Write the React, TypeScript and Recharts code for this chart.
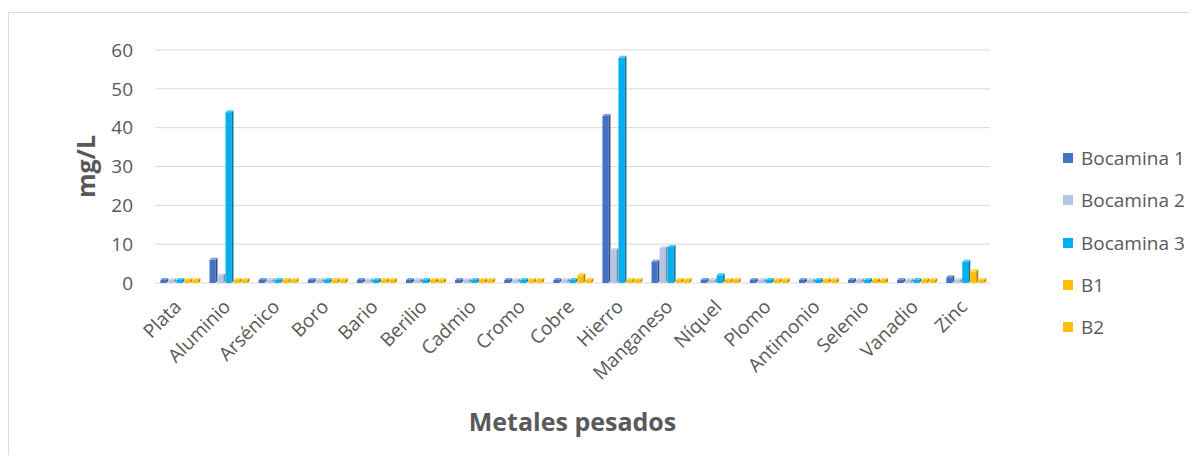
import { BarChart, Bar, XAxis, YAxis, CartesianGrid, Label } from 'recharts'

const metales = [
  'Plata', 'Aluminio', 'Arsénico', 'Boro', 'Bario', 'Berilio', 'Cadmio', 'Cromo', 'Cobre',
  'Hierro', 'Manganeso', 'Níquel', 'Plomo', 'Antimonio', 'Selenio', 'Vanadio', 'Zinc',
]

const bocamina1 = [0, 6, 0, 0, 0, 0, 0, 0, 0.2, 43, 5.5, 0.6, 0, 0, 0, 0, 1.5]
const bocamina2 = [0, 2, 0, 0, 0, 0, 0, 0, 0, 8.5, 9, 0.2, 0, 0, 0, 0, 0.5]
const bocamina3 = [0, 44, 0, 0, 0, 0, 0, 0, 0.3, 58, 9.3, 2, 0, 0, 0, 0, 5.5]
const b1 = [0, 0.2, 0, 0.5, 0.6, 0, 0, 0, 2, 0.3, 0.1, 0.1, 0, 0, 0, 0, 3]
const b2 = [0, 0, 0, 0, 0, 0, 0, 0, 0, 0, 0, 0, 0, 0, 0, 0, 0.2]

const yTicks = [0, 10, 20, 30, 40, 50, 60]

const series = [
  { key: 'bocamina1', name: 'Bocamina 1', color: '#4472C4', values: bocamina1 },
  { key: 'bocamina2', name: 'Bocamina 2', color: '#B4C7E7', values: bocamina2 },
  { key: 'bocamina3', name: 'Bocamina 3', color: '#00B0F0', values: bocamina3 },
  { key: 'b1', name: 'B1', color: '#FFC000', values: b1 },
  { key: 'b2', name: 'B2', color: '#FFC000', values: b2 },
]

const data = metales.map((metal, i) => {
  const row: Record<string, string | number> = { metal }
  series.forEach(s => { row[s.key] = s.values[i] })
  return row
})

const FONT = '"Open Sans", "Noto Sans", sans-serif'
const TEXT = '#595959'

function shade(hex: string, f: number) {
  const n = parseInt(hex.slice(1), 16)
  const ch = (v: number) => Math.max(0, Math.min(255, Math.round(f < 1 ? v * f : v + (255 - v) * (f - 1))))
  const r = ch((n >> 16) & 255), g = ch((n >> 8) & 255), b = ch(n & 255)
  return `rgb(${r},${g},${b})`
}

// flat column with a thin side and top face, to keep the old 3D look
function Column(props: any) {
  const { x, y, width, height, fill } = props
  if (!width || height == null) return null
  const d = 2
  const w = Math.max(width - d, 1)
  return (
    <g>
      <rect x={x} y={y} width={w} height={height} fill={fill} />
      <polygon
        points={`${x + w},${y} ${x + w + d},${y - d} ${x + w + d},${y + height - d} ${x + w},${y + height}`}
        fill={shade(fill, 0.7)}
      />
      <polygon
        points={`${x},${y} ${x + d},${y - d} ${x + w + d},${y - d} ${x + w},${y}`}
        fill={shade(fill, 1.3)}
      />
    </g>
  )
}

function MetalTick({ x, y, payload }: any) {
  const ax = x + 3
  const ay = y + 25
  return (
    <text
      x={ax}
      y={ay}
      transform={`rotate(-45, ${ax}, ${ay})`}
      textAnchor="end"
      fill={TEXT}
      fontSize={19}
      fontFamily={FONT}
    >
      {payload.value}
    </text>
  )
}

export default function App() {
  return (
    <div
      style={{
        position: 'relative',
        marginTop: 4,
        width: 1180,
        height: 442,
        borderLeft: '1px solid #D9D9D9',
        borderTop: '1px solid #D9D9D9',
        background: '#fff',
        fontFamily: FONT,
      }}
    >
      <BarChart
        width={1180}
        height={440}
        data={data}
        margin={{ top: 37, right: 199, left: 0, bottom: 0 }}
        barCategoryGap="11%"
        barGap={0}
      >
        <CartesianGrid vertical={false} stroke="#D9D9D9" />
        <XAxis
          dataKey="metal"
          interval={0}
          axisLine={false}
          tickLine={false}
          tickSize={0}
          tickMargin={0}
          height={170}
          tick={<MetalTick />}
        >
          <Label
            value="Metales pesados"
            position="insideBottom"
            offset={22}
            style={{ fontSize: 25, fontWeight: 700, fill: TEXT, fontFamily: FONT }}
          />
        </XAxis>
        <YAxis
          width={146}
          domain={[0, 60]}
          ticks={yTicks}
          axisLine={false}
          tickLine={false}
          tickSize={0}
          tickMargin={22}
          tick={{ fontSize: 19, fill: TEXT, fontFamily: FONT }}
        >
          <Label
            value="mg/L"
            angle={-90}
            position="center"
            dx={4}
            style={{ fontSize: 25, fontWeight: 700, fill: TEXT, fontFamily: FONT }}
          />
        </YAxis>
        {series.map(s => (
          <Bar
            key={s.key}
            dataKey={s.key}
            name={s.name}
            fill={s.color}
            minPointSize={3}
            shape={<Column />}
            isAnimationActive={false}
          />
        ))}
      </BarChart>
      <div style={{ position: 'absolute', left: 1054, top: 124 }}>
        {series.map(s => (
          <div
            key={s.key}
            style={{ height: 42.3, display: 'flex', alignItems: 'center', fontSize: 19, color: TEXT }}
          >
            <span style={{ width: 10, height: 10, background: s.color, marginRight: 8 }} />
            {s.name}
          </div>
        ))}
      </div>
    </div>
  )
}
